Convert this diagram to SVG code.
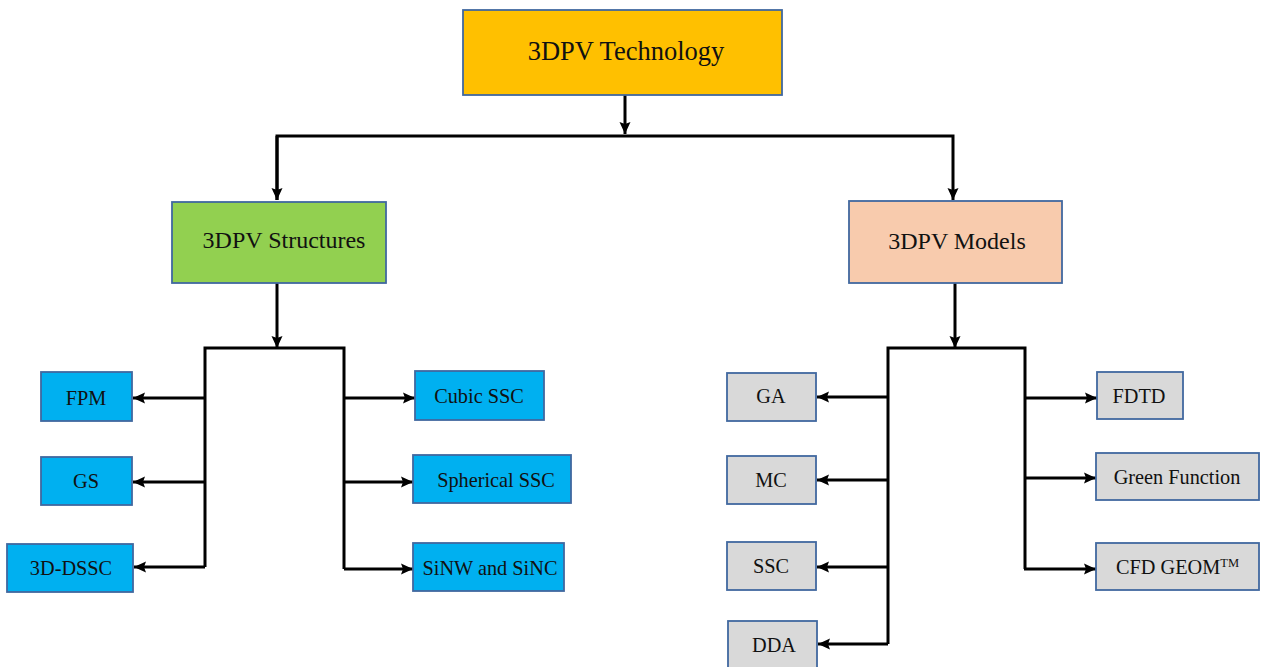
<svg xmlns="http://www.w3.org/2000/svg" width="1263" height="667" viewBox="0 0 1263 667">
<style>
.box{stroke:#41689F;stroke-width:1.8}
.top{fill:#FFC000}
.str{fill:#92D050}
.mod{fill:#F8CBAD}
.blue{fill:#00B0F0}
.grey{fill:#D9D9D9}
.t{font-family:"Liberation Serif","Times New Roman",serif;fill:#111;text-anchor:middle}
.big{font-size:26.5px}
.mid{font-size:24px}
.sm{font-size:20.3px}
.line{fill:none;stroke:#000;stroke-width:3}
</style>
<defs>
<marker id="ah" markerUnits="userSpaceOnUse" markerWidth="13" markerHeight="13" viewBox="0 0 13 13" refX="12" refY="6.5" orient="auto">
<path d="M0,1 L12,6.5 L0,12 L2,6.5 z" fill="#000"/>
</marker>
</defs>
<rect width="1263" height="667" fill="#fff"/>
<g id="connectors">
<path class="line" d="M625,95 V134" marker-end="url(#ah)"/>
<path class="line" d="M277,200 V136 H953 V200" marker-end="url(#ah)"/>
<path class="line" d="M277,136 V200" marker-end="url(#ah)"/>
<path class="line" d="M277,283 V348" marker-end="url(#ah)"/>
<path class="line" d="M205,567 V348 H344 V569"/>
<path class="line" d="M205,398 H133" marker-end="url(#ah)"/>
<path class="line" d="M205,482 H133" marker-end="url(#ah)"/>
<path class="line" d="M205,567 H134" marker-end="url(#ah)"/>
<path class="line" d="M344,398 H415" marker-end="url(#ah)"/>
<path class="line" d="M344,482 H413" marker-end="url(#ah)"/>
<path class="line" d="M344,569 H413" marker-end="url(#ah)"/>
<path class="line" d="M955,283 V348" marker-end="url(#ah)"/>
<path class="line" d="M888,644 V348 H1025 V569"/>
<path class="line" d="M888,397 H817" marker-end="url(#ah)"/>
<path class="line" d="M888,480 H817" marker-end="url(#ah)"/>
<path class="line" d="M888,567 H817" marker-end="url(#ah)"/>
<path class="line" d="M888,644 H818" marker-end="url(#ah)"/>
<path class="line" d="M1024,398 H1097" marker-end="url(#ah)"/>
<path class="line" d="M1024,478 H1096" marker-end="url(#ah)"/>
<path class="line" d="M1024,569 H1096" marker-end="url(#ah)"/>
</g>
<g id="tech"><rect class="box top" x="463" y="10" width="319" height="85"/><text class="t big" x="626" y="60">3DPV Technology</text></g>
<g id="structures"><rect class="box str" x="172" y="202" width="214" height="81"/><text class="t mid" x="284" y="248">3DPV Structures</text></g>
<g id="models"><rect class="box mod" x="849" y="201" width="213" height="82"/><text class="t mid" x="957" y="249">3DPV Models</text></g>
<g id="fpm"><rect class="box blue" x="41" y="372" width="91" height="49"/><text class="t sm" x="86" y="405">FPM</text></g>
<g id="gs"><rect class="box blue" x="41" y="457" width="91" height="48"/><text class="t sm" x="86" y="488">GS</text></g>
<g id="dssc"><rect class="box blue" x="7" y="544" width="126" height="48"/><text class="t sm" x="71" y="575">3D-DSSC</text></g>
<g id="cubic"><rect class="box blue" x="415" y="371" width="129" height="49"/><text class="t sm" x="479" y="403">Cubic SSC</text></g>
<g id="spherical"><rect class="box blue" x="413" y="455" width="158" height="48"/><text class="t sm" x="496" y="487">Spherical SSC</text></g>
<g id="sinw"><rect class="box blue" x="413" y="543" width="151" height="48"/><text class="t sm" x="490" y="575">SiNW and SiNC</text></g>
<g id="ga"><rect class="box grey" x="727" y="373" width="89" height="48"/><text class="t sm" x="771" y="403">GA</text></g>
<g id="mc"><rect class="box grey" x="727" y="456" width="89" height="48"/><text class="t sm" x="771" y="487">MC</text></g>
<g id="ssc"><rect class="box grey" x="727" y="542" width="89" height="48"/><text class="t sm" x="771" y="573">SSC</text></g>
<g id="dda"><rect class="box grey" x="728" y="621" width="89" height="52"/><text class="t sm" x="774" y="652">DDA</text></g>
<g id="fdtd"><rect class="box grey" x="1097" y="372" width="86" height="47"/><text class="t sm" x="1139" y="403">FDTD</text></g>
<g id="green"><rect class="box grey" x="1096" y="453" width="163" height="47"/><text class="t sm" x="1177" y="484">Green Function</text></g>
<g id="cfd"><rect class="box grey" x="1096" y="543" width="163" height="47"/><text class="t sm" x="1116" y="574" style="text-anchor:start">CFD GEOM<tspan font-size="12.5" dy="-7">TM</tspan></text></g>
</svg>
